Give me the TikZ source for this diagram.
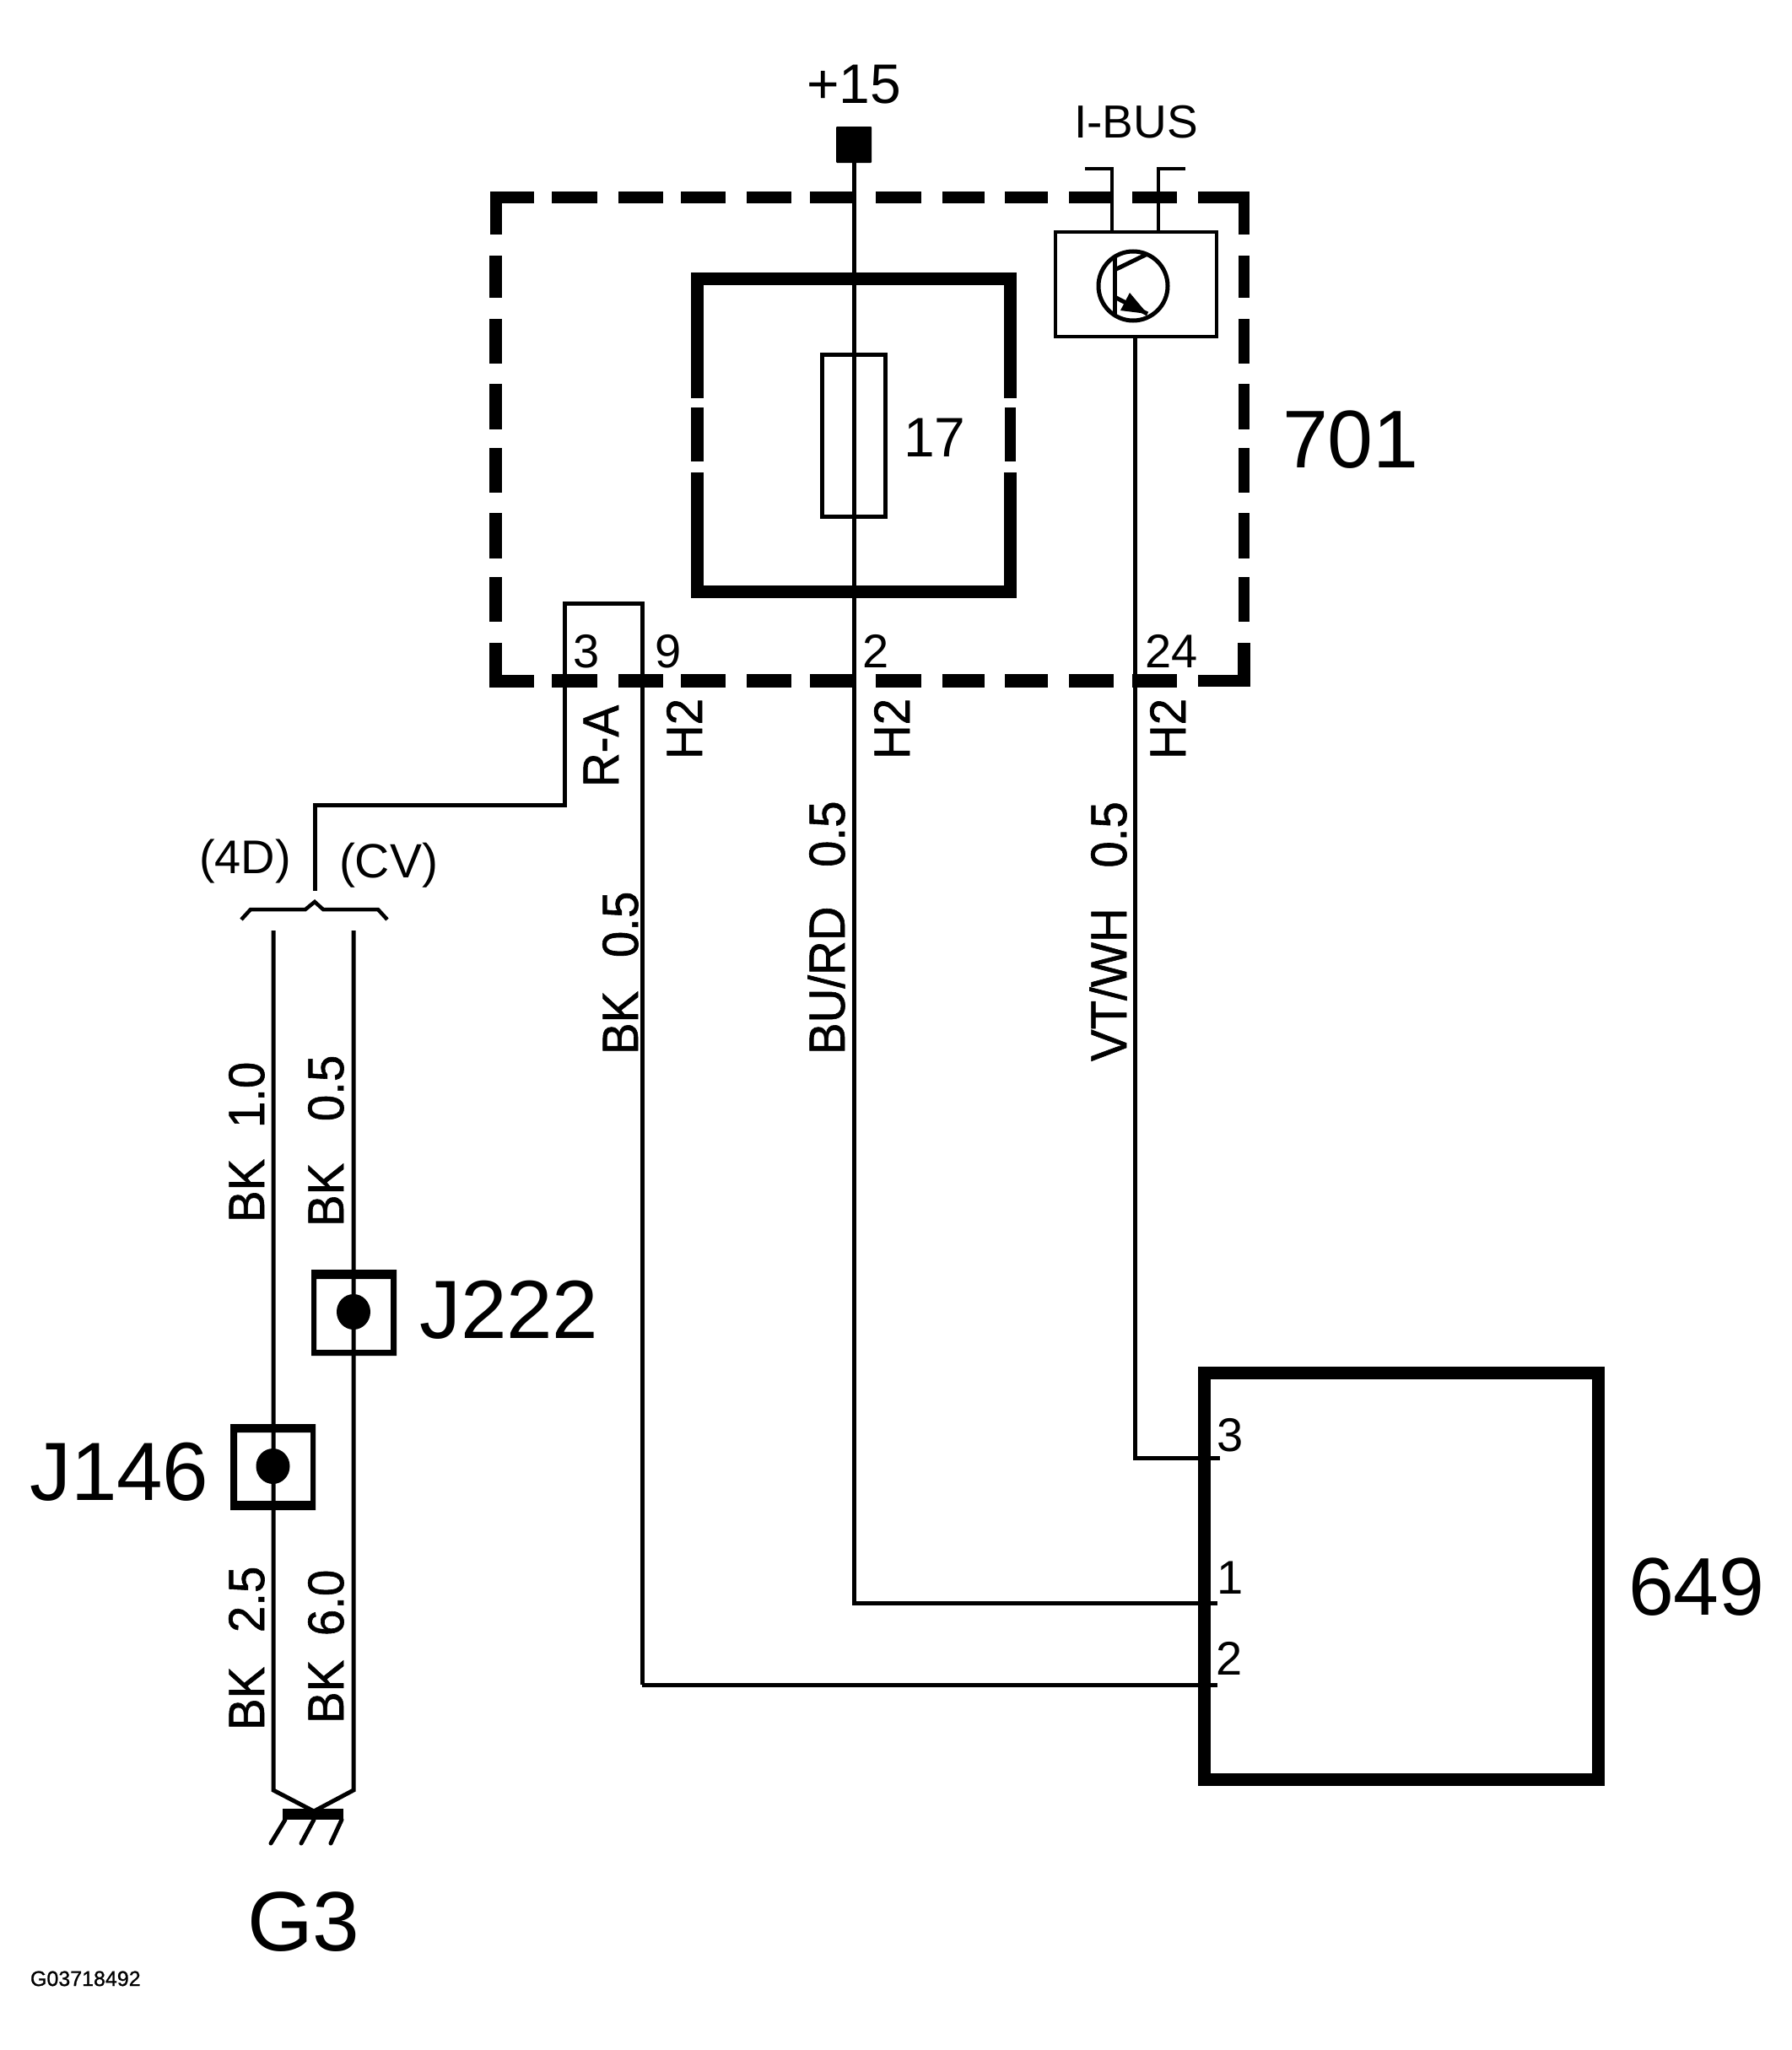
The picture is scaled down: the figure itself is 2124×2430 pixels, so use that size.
\documentclass[tikz,border=0pt]{standalone}
\usepackage{fontspec}
\setmainfont{Liberation Sans}
\newfontfamily\vfam[FakeBold=1,FakeStretch=0.94]{Liberation Sans}
\newfontfamily\cfam[FakeBold=1]{Liberation Sans}
\newcommand{\fsz}[1]{\fontsize{#1}{#1}\selectfont}
\tikzset{
  wire/.style={line width=5pt},
  thin box/.style={line width=4.5pt},
  dashbar/.style={line width=14pt},
  vbar/.style={line width=14pt},
  txt/.style={inner sep=0pt,outer sep=0pt,anchor=base west},
  vtxt/.style={inner sep=0pt,outer sep=0pt,anchor=base west,rotate=90,font=\vfam\fsz{60}},
  pin/.style={txt,font=\fsz{56}},
  big/.style={txt,font=\fsz{100}},
}
\begin{document}
\begin{tikzpicture}[x=1pt,y=-1pt]
\useasboundingbox[fill=white] (0,0) rectangle (2124,2430);
% named points
\coordinate (jA) at (373,1056);
\coordinate (kA) at (373,954);
\coordinate (w3b) at (669,954);
\coordinate (w3t) at (669,715);
\coordinate (w9t) at (761,715);
\coordinate (w9b) at (761,1997);
\coordinate (w2t) at (1012,193);
\coordinate (w2b) at (1012,1900);
\coordinate (w24t) at (1345,399);
\coordinate (w24b) at (1345,1728);
\coordinate (p3) at (1446,1728);
\coordinate (p1) at (1443,1900);
\coordinate (p2) at (1443,1997);
\coordinate (L4Dt) at (324,1103);
\coordinate (LCVt) at (419,1103);
\coordinate (L4Db) at (324,2122);
\coordinate (LCVb) at (419,2122);
\coordinate (gnd) at (372,2147);
% dashed housing 701
\foreach \a/\b in {654/708,733/786,807/860,885/938,960/1013,1038/1092,1117/1167,1191/1242,1267/1320,1342/1395}{
  \draw[dashbar] (\a,234) -- (\b,234);
  \draw[dashbar,line width=16pt] (\a,807) -- (\b,807);
}
\foreach \a/\b in {303/353,378/431,455/509,531/584,608/662,684/737}{
  \draw[vbar,line width=15pt] (587.5,\a) -- (587.5,\b);
  \draw[vbar,line width=13pt] (1474.5,\a) -- (1474.5,\b);
}
\draw[dashbar] (633,234) -- (587.5,234) -- (587.5,278);
\draw[dashbar,line width=15pt] (587.5,762) -- (587.5,807) -- (633,807);
\draw[dashbar,line width=13.5pt] (1420,234) -- (1474.5,234) -- (1474.5,278);
\draw[dashbar,line width=14.5pt] (1474.5,762) -- (1474.5,807) -- (1420,807);
% inner thick box
\draw[line width=15pt] (826.5,472) -- (826.5,330) -- (1197.5,330) -- (1197.5,472);
\draw[line width=15pt] (826.5,483) -- (826.5,547);
\draw[line width=13pt] (1197.5,483) -- (1197.5,547);
\draw[line width=15pt] (826.5,560) -- (826.5,701.5) -- (1197.5,701.5) -- (1197.5,560);
% fuse
\node[draw,thin box,line width=5pt,minimum width=75pt,minimum height=192pt,inner sep=0pt] (fuse) at (1011.5,516) {};
\node[txt,font=\fsz{66}] (n17) at (1071,541) {17};
% +15 terminal
\node[fill=black,minimum width=42pt,minimum height=43pt,inner sep=0pt,rounded corners=1pt] (t15) at (1012,171.5) {};
\node[txt,font=\fsz{66}] (lp15) at (956,123) {+15};
% transistor module
\node[draw,thin box,minimum width=191pt,minimum height=124pt,inner sep=0pt] (tbox) at (1346.5,337) {};
\draw[line width=5pt] (1343,339) circle (41pt);
\draw[line width=5pt] (1321,305) -- (1321,375);
\draw[line width=5pt] (1321,320) -- (1358,302);
\draw[line width=5pt] (1321,352) -- (1360,372);
\fill (1339,347) -- (1328,368) -- (1360,372) -- cycle;
\coordinate (b1) at (1318,275);
\coordinate (b2) at (1373,275);
\draw[thin box] (b1) -- (1318,200) -- (1286,200);
\draw[thin box] (b2) -- (1373,200) -- (1405,200);
\node[txt,font=\fsz{55}] (ibus) at (1273,163) {I-BUS};
% 649
\node[draw,line width=15pt,minimum width=467pt,minimum height=482pt,inner sep=0pt] (u649) at (1660.5,1868) {};
% splices
\fill[even odd rule] (369,1505) rectangle (470,1607) (375,1516) rectangle (463,1600);
\fill[even odd rule] (273,1688) rectangle (374,1790) (281,1698) rectangle (368,1779);
\fill (419,1555) ellipse (20pt and 21pt);
\fill (323.5,1738) ellipse (20pt and 21pt);
% wires
\draw[wire] (w2t) -- (w2b) -- (p1);
\draw[wire] (w24t) -- (w24b) -- (p3);
\draw[wire] (w9b) -- (w9t) -- (w3t) -- (w3b) -- (kA) -- (jA);
\draw[wire] (w9b) -- (p2);
\draw[wire] (L4Dt) -- (L4Db) -- (gnd) -- (LCVb) -- (LCVt);
% option brace
\draw[thin box] (286,1090) -- (297,1078) -- (362,1078) -- (373,1069) -- (383,1078) -- (448,1078) -- (459,1090);
% ground
\draw[line width=13pt] (335,2150.5) -- (407,2150.5);
\draw[wire,line cap=round] (338,2157) -- (321,2185);
\draw[wire,line cap=round] (372,2157) -- (357,2185);
\draw[wire,line cap=round] (405,2157) -- (392,2185);
% labels
\node[big,font=\fsz{97}] (l701) at (1520,554) {701};
\node[big,font=\fsz{97}] (l649) at (1930,1914) {649};
\node[big] (lg3) at (293,2312) {G3};
\node[big,font=\fsz{98}] (lj222) at (497,1586) {J222};
\node[big,font=\fsz{98}] (lj146) at (35,1778) {J146};
\node[txt,font=\fsz{56}] (l4d) at (236,1035) {(4D)};
\node[txt,font=\fsz{57}] (lcv) at (402,1040) {(CV)};
\node[pin] (pa3) at (679,791) {3};
\node[pin] (pa9) at (776,791) {9};
\node[pin] (pa2) at (1022,791) {2};
\node[pin] (pa24) at (1357,791) {24};
\node[pin] (pb3) at (1442,1720) {3};
\node[pin] (pb1) at (1442,1889) {1};
\node[pin] (pb2) at (1441,1985) {2};
\node[txt,font=\cfam\fsz{25}] (lcode) at (36,2354) {G03718492};
% rotated labels
\node[vtxt] (ra) at (733,933) {R-A};
\node[vtxt] (h9) at (832,900) {H2};
\node[vtxt] (h2) at (1078,900) {H2};
\node[vtxt] (h24) at (1405,900) {H2};
\node[vtxt] (w1) at (756,1250) {BK~\hspace{24pt}0.5};
\node[vtxt] (w2) at (1001,1250) {BU/RD~\hspace{31pt}0.5};
\node[vtxt] (w3) at (1335,1258) {VT/WH~\hspace{32pt}0.5};
\node[vtxt] (w4) at (313,1449) {BK~\hspace{21pt}1.0};
\node[vtxt] (w5) at (407,1454) {BK~\hspace{34pt}0.5};
\node[vtxt] (w6) at (313,2051) {BK~\hspace{25pt}2.5};
\node[vtxt] (w7) at (407,2043) {BK~\hspace{13pt}6.0};
\end{tikzpicture}
\end{document}
